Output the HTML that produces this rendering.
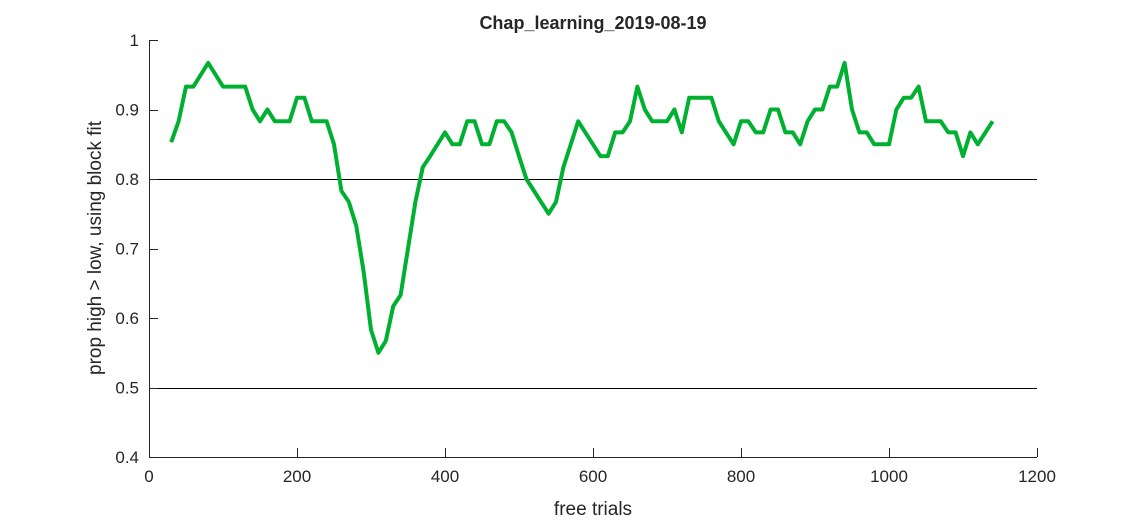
<!DOCTYPE html>
<html><head><meta charset="utf-8"><style>
body{margin:0;background:#fff;}
svg text{font-family:"Liberation Sans",Arial,sans-serif;fill:#262626;}
</style></head><body>
<svg id="chart" width="1146" height="521"></svg>
<script>
const xVals=[30,40,50,60,80,100,130,140,150,160,170,190,200,210,220,240,250,260,270,280,290,300,310,320,330,340,350,360,370,380,400,410,420,430,440,450,460,470,480,490,500,510,540,550,560,580,610,620,630,640,650,660,670,680,700,710,720,730,760,770,790,800,810,820,830,840,850,860,870,880,890,900,910,920,930,940,950,960,970,980,1000,1010,1020,1030,1040,1050,1070,1080,1090,1100,1110,1120,1140];
const yVals=[0.853,0.883,0.933,0.933,0.967,0.933,0.933,0.9,0.883,0.9,0.883,0.883,0.917,0.917,0.883,0.883,0.85,0.783,0.767,0.733,0.667,0.583,0.55,0.567,0.617,0.633,0.7,0.767,0.817,0.833,0.867,0.85,0.85,0.883,0.883,0.85,0.85,0.883,0.883,0.867,0.833,0.8,0.75,0.767,0.817,0.883,0.833,0.833,0.867,0.867,0.883,0.933,0.9,0.883,0.883,0.9,0.867,0.917,0.917,0.883,0.85,0.883,0.883,0.867,0.867,0.9,0.9,0.867,0.867,0.85,0.883,0.9,0.9,0.933,0.933,0.967,0.9,0.867,0.867,0.85,0.85,0.9,0.917,0.917,0.933,0.883,0.883,0.867,0.867,0.833,0.867,0.85,0.883];
const xTicks=[0,200,400,600,800,1000,1200];
const yTicks=[0.4,0.5,0.6,0.7,0.8,0.9,1];
const refLines=[0.8,0.5];
const L=149,R=1037,T=40,B=457;
const sx=v=>L+(v-0)/1200*(R-L);
const sy=v=>B-(v-0.4)/0.6*(B-T);
const svg=document.getElementById('chart');
const NS='http://www.w3.org/2000/svg';
function mk(tag,attrs){const e=document.createElementNS(NS,tag);for(const k in attrs)e.setAttribute(k,attrs[k]);svg.appendChild(e);return e;}
refLines.forEach(v=>{
 const y=Math.round(sy(v))+0.5;
 const l=mk('line',{x1:L,x2:R,y1:y,y2:y,stroke:'#000','stroke-width':1,'shape-rendering':'crispEdges'});
 
 
});
const ax=mk('line',{x1:L+0.5,x2:L+0.5,y1:T,y2:B,stroke:'#262626','stroke-width':1,'shape-rendering':'crispEdges'});


const bx=mk('line',{x1:L,x2:R,y1:B+0.5,y2:B+0.5,stroke:'#262626','stroke-width':1,'shape-rendering':'crispEdges'});


yTicks.forEach(v=>{
 const y=Math.round(sy(v))+0.5;
 mk('line',{x1:L,x2:L+9,y1:y,y2:y,stroke:'#262626','shape-rendering':'crispEdges'});
 const t=mk('text',{x:L-10,y:sy(v)+6,'text-anchor':'end','font-size':17});
 t.textContent=String(v);
 
 
});
xTicks.forEach(v=>{
 const x=Math.round(sx(v))+0.5;
 mk('line',{x1:x,x2:x,y1:B,y2:B-9,stroke:'#262626','shape-rendering':'crispEdges'});
 const t=mk('text',{x:sx(v),y:B+25,'text-anchor':'middle','font-size':17});
 t.textContent=String(v);
 
 
});
const pts=xVals.map((x,i)=>sx(x).toFixed(1)+','+sy(yVals[i]).toFixed(1)).join(' ');
const pl=mk('polyline',{points:pts,fill:'none',stroke:'#00b030','stroke-width':4,'stroke-linejoin':'round'});


const ti=mk('text',{x:593,y:29,'text-anchor':'middle','font-size':18,'font-weight':'bold'});
ti.textContent='Chap_learning_2019-08-19';


const xl=mk('text',{x:593,y:515,'text-anchor':'middle','font-size':19});
xl.textContent='free trials';


const yl=mk('text',{x:0,y:0,'text-anchor':'middle','font-size':19,transform:'translate(101,248) rotate(-90)'});
yl.textContent='prop high > low, using block fit';


</script>
</body></html>
